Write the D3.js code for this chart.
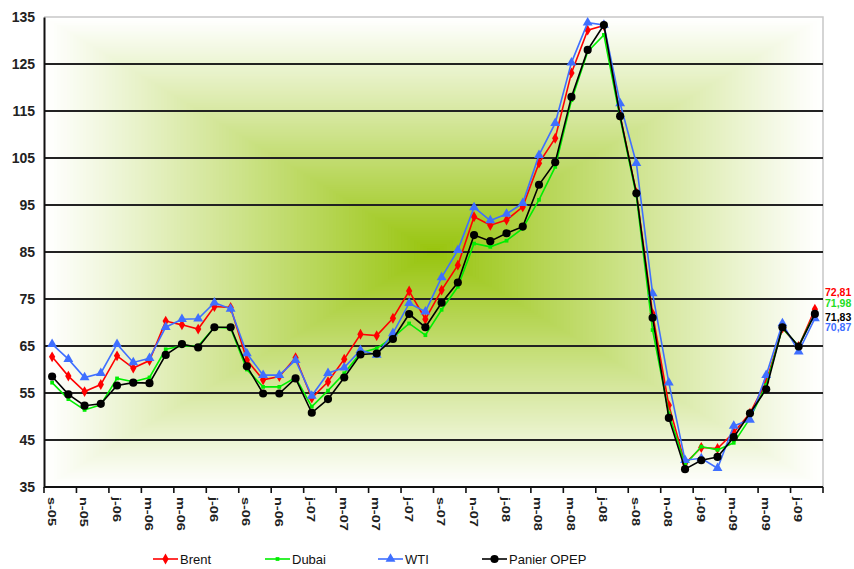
<!DOCTYPE html>
<html>
<head>
<meta charset="utf-8">
<script src="https://cdn.jsdelivr.net/npm/d3@7"></script>
<style>
  html, body { margin: 0; padding: 0; background: #fff; }
  svg { display: block; font-family: "Liberation Sans", Arial, sans-serif; }
</style>
</head>
<body>
<svg id="chart" width="854" height="569"></svg>
<script>
// Monthly crude prices, $/barrel, September 2005 to August 2009
const months = [
  "s-05","o-05","n-05","d-05",
  "j-06","f-06","m-06","a-06","m-06","j-06","j-06","a-06","s-06","o-06","n-06","d-06",
  "j-07","f-07","m-07","a-07","m-07","j-07","j-07","a-07","s-07","o-07","n-07","d-07",
  "j-08","f-08","m-08","a-08","m-08","j-08","j-08","a-08","s-08","o-08","n-08","d-08",
  "j-09","f-09","m-09","a-09","m-09","j-09","j-09","a-09"
];

const brent = [62.7,58.6,55.3,56.8,62.9,60.3,61.9,70.3,69.5,68.6,73.4,73.2,62.0,57.8,58.5,62.5,
  53.9,57.4,62.2,67.5,67.2,70.9,76.7,70.7,76.9,82.2,92.5,90.7,91.8,94.6,103.9,109.2,
  123.1,132.2,133.2,114.0,97.6,71.9,52.4,40.0,43.4,43.2,46.6,50.7,57.4,68.8,64.9,72.81];

const dubai = [57.2,53.7,51.4,52.5,58.1,57.4,58.3,64.3,65.0,65.0,69.0,68.8,60.0,56.3,56.3,58.3,
  52.1,55.5,59.2,63.5,64.5,66.8,69.8,67.3,72.7,77.6,86.8,86.1,87.4,90.0,96.1,103.1,
  117.3,127.6,131.2,113.5,97.0,68.4,50.7,39.7,43.6,42.9,44.4,49.6,56.7,68.8,65.0,71.98];

const wti = [65.4,62.2,58.3,59.2,65.4,61.5,62.4,69.0,70.7,70.8,74.2,72.9,63.4,58.8,58.8,62.0,
  54.4,59.2,60.4,64.1,63.1,67.7,74.1,72.3,79.6,85.4,94.5,91.7,93.1,95.4,105.6,112.4,
  125.3,133.8,133.3,116.6,103.9,76.2,57.2,40.7,41.1,39.0,48.0,49.3,58.8,69.8,63.8,70.87];

const opep = [58.5,54.7,52.3,52.7,56.6,57.2,57.1,63.1,65.4,64.7,69.0,69.0,60.7,54.9,54.9,58.1,
  50.8,53.7,58.3,63.2,63.4,66.5,71.8,69.0,74.2,78.5,88.6,87.3,89.0,90.4,99.3,104.1,
  118.0,128.0,133.3,113.9,97.5,71.0,49.7,38.8,40.7,41.4,45.6,50.7,55.8,69.0,64.9,71.83];

const seriesNames = ["Brent", "Dubai", "WTI", "Panier OPEP"];
const yTicks = [35, 45, 55, 65, 75, 85, 95, 105, 115, 125, 135];

// Drawing styles for each series
const styles = [
  { color: "#ff0000", symbol: d3.symbolDiamond,  size: 34, labelDy: -17 },
  { color: "#00ee00", symbol: d3.symbolSquare,   size: 14, labelDy: -10 },
  { color: "#3f6fff", symbol: d3.symbolTriangle, size: 42, labelDy: 9 },
  { color: "#000000", symbol: d3.symbolCircle,   size: 52, labelDy: 3 }
];
const seriesValues = [brent, dubai, wti, opep];

const svg = d3.select("#chart");
const plot = { left: 44, top: 17, right: 823, bottom: 487 };

const x = d3.scaleBand().domain(d3.range(months.length)).range([plot.left, plot.right]);
const y = d3.scaleLinear().domain([35, 135]).range([plot.bottom, plot.top]);
const cx = i => x(i) + x.bandwidth() / 2;

// Rectangular "from centre" gradient fill of the plot area
const bg = svg.append("g");
const midX = (plot.left + plot.right) / 2, midY = (plot.top + plot.bottom) / 2;
const halfW = (plot.right - plot.left) / 2, halfH = (plot.bottom - plot.top) / 2;
const shade = d3.interpolateRgb("#ffffff", "#97c40c");
const steps = 120;
for (let k = 0; k < steps; k++) {
  const t = 1 - k / steps;
  bg.append("rect")
    .attr("x", midX - halfW * t).attr("y", midY - halfH * t)
    .attr("width", 2 * halfW * t).attr("height", 2 * halfH * t)
    .attr("fill", shade(Math.pow(1 - t, 1.05)));
}

// Plot frame (top and right)
svg.append("path")
  .attr("d", `M${plot.left},${plot.top}H${plot.right}V${plot.bottom}`)
  .attr("fill", "none").attr("stroke", "#c8c8c8").attr("stroke-width", 1.5);

// Horizontal gridlines
svg.append("g").selectAll("line")
  .data(yTicks.filter(v => v > 35 && v < 135))
  .join("line")
  .attr("x1", plot.left).attr("x2", plot.right)
  .attr("y1", d => y(d)).attr("y2", d => y(d))
  .attr("stroke", "#222").attr("stroke-width", 1.8);

// Y axis
const yAxis = svg.append("g")
  .attr("transform", `translate(${plot.left},0)`)
  .call(d3.axisLeft(y).tickValues(yTicks).tickSize(0).tickPadding(9));
yAxis.select(".domain").attr("stroke", "#111").attr("stroke-width", 2);
yAxis.selectAll("text")
  .attr("font-size", 14).attr("font-weight", "bold").attr("fill", "#222")
  .attr("font-family", "'Liberation Sans', Arial, sans-serif");

// X axis: ticks every second month boundary
const xg = svg.append("g");
xg.append("line")
  .attr("x1", plot.left).attr("x2", plot.right)
  .attr("y1", plot.bottom).attr("y2", plot.bottom)
  .attr("stroke", "#111").attr("stroke-width", 2);
const boundaries = d3.range(0, months.length + 1, 2);
xg.selectAll("line.tick")
  .data(boundaries)
  .join("line").attr("class", "tick")
  .attr("x1", i => i < months.length ? x(i) : plot.right)
  .attr("x2", i => i < months.length ? x(i) : plot.right)
  .attr("y1", plot.bottom).attr("y2", plot.bottom + 6)
  .attr("stroke", "#111").attr("stroke-width", 1.6);
xg.selectAll("text")
  .data(d3.range(0, months.length, 2))
  .join("text")
  .attr("transform", i => `translate(${cx(i) - 1},${plot.bottom + 10}) rotate(90) scale(1.45,1)`)
  .attr("dy", "0.35em")
  .attr("font-size", 10).attr("font-weight", "bold").attr("fill", "#222")
  .text(i => months[i]);

// Series lines and markers
const line = d3.line().x((d, i) => cx(i)).y(d => y(d));
seriesValues.forEach((vals, s) => {
  const st = styles[s];
  const g = svg.append("g");
  g.append("path").datum(vals)
    .attr("d", line).attr("fill", "none")
    .attr("stroke", st.color).attr("stroke-width", 1.6);
  g.selectAll("path.pt").data(vals).join("path").attr("class", "pt")
    .attr("transform", (d, i) => `translate(${cx(i)},${y(d)})`)
    .attr("d", d3.symbol(st.symbol, st.size))
    .attr("fill", st.color);
});

// Latest values printed at the right edge
const fmt = v => v.toFixed(2).replace(".", ",");
seriesValues.forEach((vals, s) => {
  const last = vals[vals.length - 1];
  svg.append("text")
    .attr("x", plot.right + 2)
    .attr("y", y(last) + styles[s].labelDy)
    .attr("dy", "0.35em")
    .attr("font-size", 10.5).attr("font-weight", "bold")
    .attr("fill", styles[s].color === "#00ee00" ? "#22dd22" : styles[s].color)
    .text(fmt(last));
});

// Legend
const legendX = [153, 265, 378, 482];
const legend = svg.append("g");
seriesNames.forEach((name, s) => {
  const st = styles[s];
  const lg = legend.append("g").attr("transform", `translate(${legendX[s]},559)`);
  lg.append("line").attr("x1", 0).attr("x2", 25).attr("stroke", st.color).attr("stroke-width", 1.6);
  lg.append("path").attr("transform", "translate(12.5,0)")
    .attr("d", d3.symbol(st.symbol, st.size)).attr("fill", st.color);
  lg.append("text").attr("x", 27).attr("dy", "0.35em")
    .attr("font-size", 13).attr("fill", "#111")
    .text(name);
});
</script>
</body>
</html>
